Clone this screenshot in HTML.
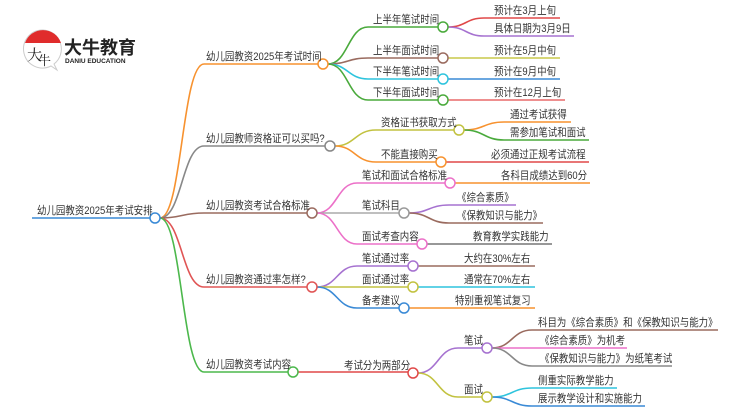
<!DOCTYPE html>
<html><head><meta charset="utf-8">
<style>
html,body{margin:0;padding:0;background:#fff;width:750px;height:410px;overflow:hidden}
svg text{font-family:"Liberation Sans","Noto Sans CJK SC",sans-serif;font-size:11px;fill:#333}
</style></head><body>
<svg width="750" height="410" viewBox="0 0 750 410" xmlns="http://www.w3.org/2000/svg">
<g fill="none" stroke-width="1.6">
<path d="M32 218 H150" stroke="#3a8ad6"/>
<path d="M160 218 C182 218,182 64,204 64 H318" stroke="#f7922f"/>
<path d="M160 218 C182 218,182 146,204 146 H325" stroke="#888"/>
<path d="M160 218 C182 218,182 213,204 213 H307" stroke="#9a6b5f"/>
<path d="M160 218 C182 218,182 287,204 287 H307" stroke="#e05555"/>
<path d="M160 218 C182 218,182 372,204 372 H288" stroke="#4cb84c"/>
<path d="M328 64 C348 64,348 27,368 27 H438" stroke="#4aaa3c"/>
<path d="M328 64 C348 64,348 58,368 58 H438" stroke="#9a6b5f"/>
<path d="M328 64 C348 64,348 79,368 79 H438" stroke="#2ec4dd"/>
<path d="M328 64 C348 64,348 100,368 100 H438" stroke="#4aaa3c"/>
<path d="M448 27 C466 27,466 18,484 18 H560" stroke="#e04848"/>
<path d="M448 27 C466 27,466 36,484 36 H574" stroke="#a672d0"/>
<path d="M448 58 H560" stroke="#c9c94a"/>
<path d="M448 79 H560" stroke="#3a8ad6"/>
<path d="M448 100 H565" stroke="#e86a6a"/>
<path d="M335 146 C355 146,355 130,376 130 H454" stroke="#c2c240"/>
<path d="M335 146 C355 146,355 162,376 162 H436" stroke="#f7922f"/>
<path d="M464 130 C484 130,484 122,504 122 H571" stroke="#f7922f"/>
<path d="M464 130 C484 130,484 140,504 140 H589" stroke="#4aaa3c"/>
<path d="M446 162 H589" stroke="#e04848"/>
<path d="M317 213 C337 213,337 183,357 183 H445" stroke="#ec70c8"/>
<path d="M317 213 H399" stroke="#aaa"/>
<path d="M317 213 C337 213,337 244,357 244 H417" stroke="#ec70c8"/>
<path d="M455 183 H590" stroke="#f7922f"/>
<path d="M409 213 C429 213,429 205,449 205 H516" stroke="#a672d0"/>
<path d="M409 213 C429 213,429 223,449 223 H543" stroke="#9a6b5f"/>
<path d="M427 244 H552" stroke="#777"/>
<path d="M317 287 C337 287,337 266,357 266 H408" stroke="#a672d0"/>
<path d="M317 287 H408" stroke="#c2c240"/>
<path d="M317 287 C337 287,337 308,357 308 H399" stroke="#3a8ad6"/>
<path d="M418 266 H535" stroke="#9a6b5f"/>
<path d="M418 287 H535" stroke="#2ec4dd"/>
<path d="M409 308 H535" stroke="#f7922f"/>
<path d="M298 372 H408" stroke="#e04848"/>
<path d="M418 373 C438 373,438 348,458 348 H482" stroke="#a672d0"/>
<path d="M418 373 C438 373,438 397,458 397 H482" stroke="#c2c240"/>
<path d="M492 348 C512 348,512 330,532 330 H718" stroke="#9a6b5f"/>
<path d="M492 348 H627" stroke="#ec70c8"/>
<path d="M492 348 C512 348,512 366,532 366 H672" stroke="#888"/>
<path d="M492 397 C512 397,512 388,532 388 H617" stroke="#2ec4dd"/>
<path d="M492 397 C512 397,512 406,532 406 H645" stroke="#3a8ad6"/>
</g>
<g fill="#fff" stroke-width="1.5">
<circle cx="155" cy="218" r="5" stroke="#3a8ad6"/>
<circle cx="323" cy="64" r="5" stroke="#f7922f"/>
<circle cx="330" cy="146" r="5" stroke="#888"/>
<circle cx="312" cy="213" r="5" stroke="#9a6b5f"/>
<circle cx="312" cy="287" r="5" stroke="#e05555"/>
<circle cx="293" cy="372" r="5" stroke="#4cb84c"/>
<circle cx="443" cy="27" r="5" stroke="#4aaa3c"/>
<circle cx="443" cy="58" r="5" stroke="#9a6b5f"/>
<circle cx="443" cy="79" r="5" stroke="#2ec4dd"/>
<circle cx="443" cy="100" r="5" stroke="#4aaa3c"/>
<circle cx="459" cy="130" r="5" stroke="#c2c240"/>
<circle cx="441" cy="162" r="5" stroke="#f7922f"/>
<circle cx="450" cy="183" r="5" stroke="#ec70c8"/>
<circle cx="404" cy="213" r="5" stroke="#999"/>
<circle cx="422" cy="244" r="5" stroke="#ec70c8"/>
<circle cx="413" cy="266" r="5" stroke="#a672d0"/>
<circle cx="413" cy="287" r="5" stroke="#c2c240"/>
<circle cx="404" cy="308" r="5" stroke="#3a8ad6"/>
<circle cx="413" cy="373" r="5" stroke="#e04848"/>
<circle cx="487" cy="348" r="5" stroke="#a672d0"/>
<circle cx="487" cy="397" r="5" stroke="#c2c240"/>
</g>
<g>
<text transform="translate(37 214) scale(.86 1)">幼儿园教资2025年考试安排</text>
<text transform="translate(206 60) scale(.86 1)">幼儿园教资2025年考试时间</text>
<text transform="translate(206 142) scale(.86 1)">幼儿园教师资格证可以买吗?</text>
<text transform="translate(206 209) scale(.86 1)">幼儿园教资考试合格标准</text>
<text transform="translate(206 283) scale(.86 1)">幼儿园教资通过率怎样?</text>
<text transform="translate(206 368) scale(.86 1)">幼儿园教资考试内容</text>
<text transform="translate(373 23) scale(.86 1)">上半年笔试时间</text>
<text transform="translate(373 54) scale(.86 1)">上半年面试时间</text>
<text transform="translate(373 75) scale(.86 1)">下半年笔试时间</text>
<text transform="translate(373 96) scale(.86 1)">下半年面试时间</text>
<text transform="translate(494 14) scale(.86 1)">预计在3月上旬</text>
<text transform="translate(494 32) scale(.86 1)">具体日期为3月9日</text>
<text transform="translate(494 54) scale(.86 1)">预计在5月中旬</text>
<text transform="translate(494 75) scale(.86 1)">预计在9月中旬</text>
<text transform="translate(494 96) scale(.86 1)">预计在12月上旬</text>
<text transform="translate(381 126) scale(.86 1)">资格证书获取方式</text>
<text transform="translate(381 158) scale(.86 1)">不能直接购买</text>
<text transform="translate(510 118) scale(.86 1)">通过考试获得</text>
<text transform="translate(510 136) scale(.86 1)">需参加笔试和面试</text>
<text transform="translate(491 158) scale(.86 1)">必须通过正规考试流程</text>
<text transform="translate(362 179) scale(.86 1)">笔试和面试合格标准</text>
<text transform="translate(362 209) scale(.86 1)">笔试科目</text>
<text transform="translate(362 240) scale(.86 1)">面试考查内容</text>
<text transform="translate(501 179) scale(.86 1)">各科目成绩达到60分</text>
<text transform="translate(457 201) scale(.86 1)">《综合素质》</text>
<text transform="translate(457 219) scale(.86 1)">《保教知识与能力》</text>
<text transform="translate(473 240) scale(.86 1)">教育教学实践能力</text>
<text transform="translate(362 262) scale(.86 1)">笔试通过率</text>
<text transform="translate(362 283) scale(.86 1)">面试通过率</text>
<text transform="translate(362 304) scale(.86 1)">备考建议</text>
<text transform="translate(464 262) scale(.86 1)">大约在30%左右</text>
<text transform="translate(464 283) scale(.86 1)">通常在70%左右</text>
<text transform="translate(455 304) scale(.86 1)">特别重视笔试复习</text>
<text transform="translate(344 369) scale(.86 1)">考试分为两部分</text>
<text transform="translate(464 344) scale(.86 1)">笔试</text>
<text transform="translate(464 393) scale(.86 1)">面试</text>
<text transform="translate(538 326) scale(.86 1)">科目为《综合素质》和《保教知识与能力》</text>
<text transform="translate(540 344) scale(.86 1)">《综合素质》为机考</text>
<text transform="translate(540 362) scale(.86 1)">《保教知识与能力》为纸笔考试</text>
<text transform="translate(538 384) scale(.86 1)">侧重实际教学能力</text>
<text transform="translate(538 402) scale(.86 1)">展示教学设计和实施能力</text>
</g>
<g>
<path d="M43 30 a19 19 0 1 0 8 36 l6 4 -3 -6 a19 19 0 0 0 -11 -34z" fill="#fff" stroke="#ccc" stroke-width="1"/>
<path d="M25 43 a19 19 0 0 1 36 0 z" fill="#e02c2c"/>
<text x="27" y="60" style="font-size:15px;fill:#222;font-family:'Noto Serif CJK SC',serif">大</text>
<text x="38" y="65" style="font-size:13px;fill:#222;font-family:'Noto Serif CJK SC',serif">牛</text>
<text x="64" y="54" style="font-size:18px;font-weight:bold;fill:#222">大牛教育</text>
<text x="65" y="63" style="font-size:6.5px;font-weight:bold;fill:#222">DANIU EDUCATION</text>
</g>
</svg>
</body></html>
